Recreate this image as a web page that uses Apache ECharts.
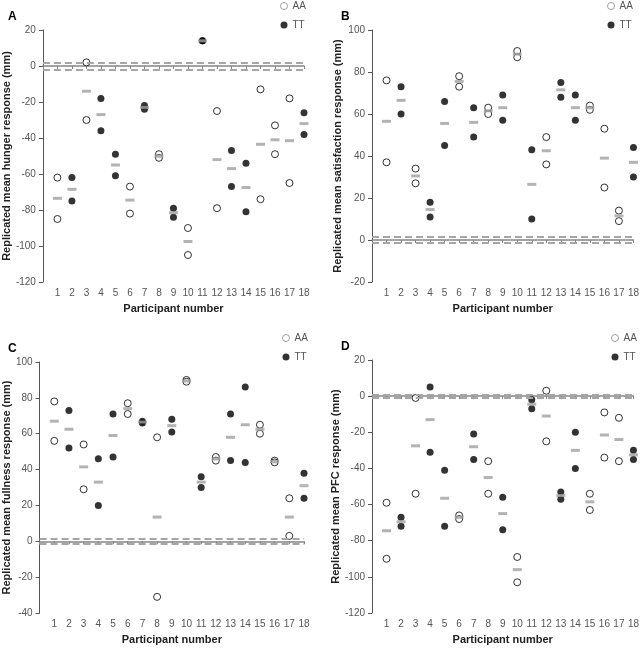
<!DOCTYPE html>
<html>
<head>
<meta charset="utf-8">
<script src="https://cdn.jsdelivr.net/npm/echarts@6/dist/echarts.min.js"></script>
<style>
html, body { margin: 0; padding: 0; background: #fff; }
#chart { width: 642px; height: 648px; }
</style>
</head>
<body>
<div id="chart"></div>
<script>
// participant numbers and genotype group
const participants = [1, 2, 3, 4, 5, 6, 7, 8, 9, 10, 11, 12, 13, 14, 15, 16, 17, 18];
const genotype = ['AA', 'TT', 'AA', 'TT', 'TT', 'AA', 'TT', 'AA', 'TT', 'AA', 'TT', 'AA', 'TT', 'TT', 'AA', 'AA', 'AA', 'TT'];

// A - hunger
const hungerRep1 = [-62, -62, 2, -18, -49, -67, -22, -49, -79, -90, 14, -25, -47, -54, -13, -33, -18, -26];
const hungerRep2 = [-85, -75, -30, -36, -61, -82, -24, -51, -84, -105, 14, -79, -67, -81, -74, -49, -65, -38];
const hungerMean = [-73.5, -68.5, -14, -27, -55, -74.5, -23, -50, -81.5, -97.5, 14, -52, -57, -67.5, -43.5, -41, -41.5, -32];

// B - satisfaction
const satisRep1 = [76, 73, 34, 18, 66, 78, 63, 63, 69, 90, 43, 49, 75, 69, 64, 53, 14, 44];
const satisRep2 = [37, 60, 27, 11, 45, 73, 49, 60, 57, 87, 10, 36, 68, 57, 62, 25, 9, 30];
const satisMean = [56.5, 66.5, 30.5, 14.5, 55.5, 75.5, 56, 61.5, 63, 88.5, 26.5, 42.5, 71.5, 63, 63, 39, 11.5, 37];

// C - fullness
const fullRep1 = [78, 73, 54, 46, 71, 77, 67, 58, 68, 90, 36, 47, 71, 86, 65, 45, 24, 38];
const fullRep2 = [56, 52, 29, 20, 47, 71, 66, -31, 61, 89, 30, 45, 45, 44, 60, 44, 3, 24];
const fullMean = [67, 62.5, 41.5, 33, 59, 74, 66.5, 13.5, 64.5, 89.5, 33, 46, 58, 65, 62.5, 44.5, 13.5, 31];

// D - PFC
const pfcRep1 = [-59, -67, -1, 5, -41, -66, -21, -36, -56, -89, -2, 3, -53, -20, -54, -9, -12, -30];
const pfcRep2 = [-90, -72, -54, -31, -72, -68, -35, -54, -74, -103, -7, -25, -57, -40, -63, -34, -36, -35];
const pfcMean = [-74.5, -69.5, -27.5, -13, -56.5, -67, -28, -45, -65, -96, -4.5, -11, -55, -30, -58.5, -21.5, -24, -32.5];

// reference band (+/-) around zero for each panel
const bandLimits = [2, 1.5, 1.6, 0.8];

const panels = [
  { letter: 'A', title: 'Replicated mean hunger response (mm)', rep1: hungerRep1, rep2: hungerRep2, mean: hungerMean,
    min: -120, max: 20, grid: { left: 39, top: 30, width: 265, height: 252 }, nameGap: 26, legend: [275, -4] },
  { letter: 'B', title: 'Replicated mean satisfaction response (mm)', rep1: satisRep1, rep2: satisRep2, mean: satisMean,
    min: -20, max: 100, grid: { left: 372, top: 30, width: 263, height: 252 }, nameGap: 29, legend: [602, -4] },
  { letter: 'C', title: 'Replicated mean fullness response (mm)', rep1: fullRep1, rep2: fullRep2, mean: fullMean,
    min: -40, max: 100, grid: { left: 39, top: 362, width: 265, height: 251 }, nameGap: 26, legend: [277, 328] },
  { letter: 'D', title: 'Replicated mean PFC response (mm)', rep1: pfcRep1, rep2: pfcRep2, mean: pfcMean,
    min: -120, max: 20, grid: { left: 372, top: 360, width: 263, height: 253 }, nameGap: 29, legend: [606, 328] }
];

const fontFam = '"Liberation Sans", Arial, sans-serif';
const chart = echarts.init(document.getElementById('chart'));

function groupPoints(g, rep1, rep2) {
  const out = [];
  participants.forEach((p, i) => {
    if (genotype[i] === g) {
      out.push([p, rep1[i]]);
      out.push([p, rep2[i]]);
    }
  });
  return out;
}

const option = {
  animation: false,
  backgroundColor: '#fff',
  title: [], grid: [], xAxis: [], yAxis: [], legend: [], series: []
};

panels.forEach((pn, g) => {
  option.title.push({
    text: pn.letter, left: pn.grid.left - 36, top: pn.grid.top - 24,
    textStyle: { fontSize: 12, fontWeight: 'bold', color: '#000', fontFamily: fontFam }
  });
  option.grid.push(Object.assign({ containLabel: false }, pn.grid));
  // label axis at the bottom
  option.xAxis.push({
    type: 'value', gridIndex: g, min: 0, max: 18, interval: 1,
    name: 'Participant number', nameLocation: 'middle', nameGap: 21,
    nameTextStyle: { fontSize: 11, fontWeight: 'bold', color: '#222', fontFamily: fontFam },
    axisLine: { show: false, onZero: false }, axisTick: { show: false }, splitLine: { show: false },
    axisLabel: { fontSize: 10, color: '#555', margin: 6, fontFamily: fontFam,
      formatter: v => (v === 0 ? '' : String(v)) }
  });
  // zero line with ticks
  option.xAxis.push({
    type: 'value', gridIndex: g, min: 0, max: 18, interval: 1, position: 'bottom',
    axisLine: { show: true, onZero: true, lineStyle: { color: '#858585', width: 1.5 } },
    axisTick: { show: true, length: 3, lineStyle: { color: '#858585' } },
    axisLabel: { show: false }, splitLine: { show: false }
  });
  option.yAxis.push({
    type: 'value', gridIndex: g, min: pn.min, max: pn.max, interval: 20,
    name: pn.title, nameLocation: 'middle', nameGap: pn.nameGap,
    nameTextStyle: { fontSize: 11, fontWeight: 'bold', color: '#222', fontFamily: fontFam },
    axisLine: { show: true, lineStyle: { color: '#555', width: 1 } },
    axisTick: { show: true, length: 4, lineStyle: { color: '#555' } },
    splitLine: { show: false },
    axisLabel: { fontSize: 10, color: '#555', margin: 7, fontFamily: fontFam }
  });
  option.legend.push({
    left: pn.legend[0], top: pn.legend[1], orient: 'vertical', itemGap: 9,
    itemWidth: 7, itemHeight: 7, itemTextGap: 6,
    textStyle: { fontSize: 10, color: '#555', fontFamily: fontFam },
    data: [
      { name: 'AA', icon: 'circle', itemStyle: { color: '#fff', borderColor: '#888', borderWidth: 1 } },
      { name: 'TT', icon: 'circle', itemStyle: { color: '#000' } }
    ]
  });
  const band = bandLimits[g];
  option.series.push({
    name: 'AA', type: 'scatter', xAxisIndex: 2 * g, yAxisIndex: g,
    symbol: 'circle', symbolSize: 7, clip: false, z: 3,
    itemStyle: { color: '#fff', borderColor: '#000', borderWidth: 1 },
    data: groupPoints('AA', pn.rep1, pn.rep2),
    markLine: {
      silent: true, symbol: 'none', label: { show: false },
      lineStyle: { color: '#a6a6a6', type: [7, 4], width: 2 },
      data: [{ yAxis: band }, { yAxis: -band }]
    }
  });
  option.series.push({
    name: 'TT', type: 'scatter', xAxisIndex: 2 * g, yAxisIndex: g,
    symbol: 'circle', symbolSize: 7, clip: false, z: 3,
    itemStyle: { color: '#000' },
    data: groupPoints('TT', pn.rep1, pn.rep2)
  });
  option.series.push({
    name: 'Mean', type: 'scatter', xAxisIndex: 2 * g, yAxisIndex: g,
    symbol: 'rect', symbolSize: [9, 3], clip: false, z: 4,
    itemStyle: { color: '#a0a0a0' },
    data: participants.map((p, i) => [p, pn.mean[i]])
  });
});

chart.setOption(option);
</script>
</body>
</html>
